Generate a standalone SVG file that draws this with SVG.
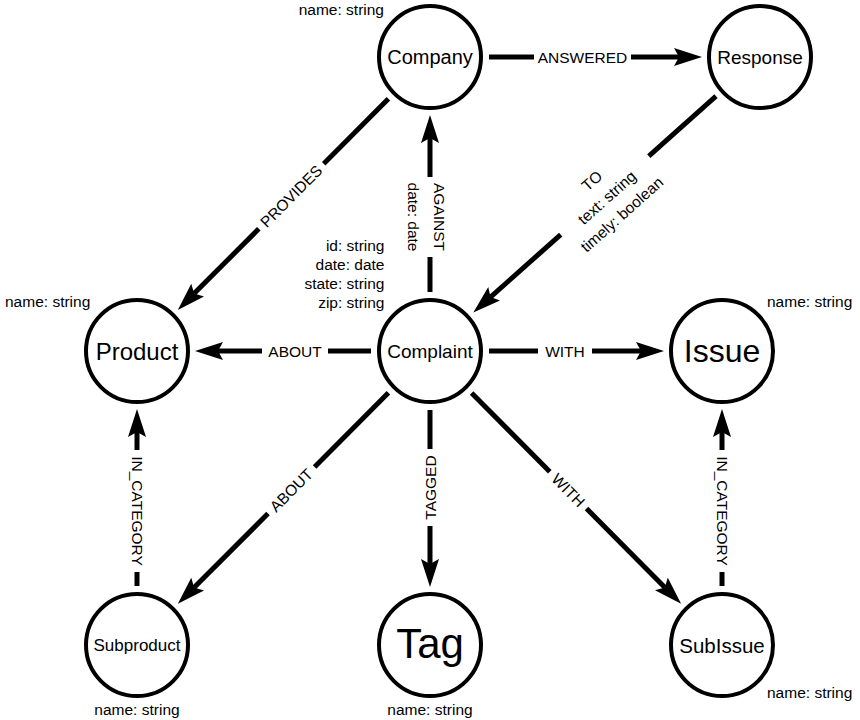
<svg xmlns="http://www.w3.org/2000/svg" width="860" height="720" viewBox="0 0 860 720">
<style>
.node circle{fill:#fff;stroke:#000;stroke-width:4}
.nl{font-family:"Liberation Sans",Arial,sans-serif;fill:#000;text-anchor:middle}
.prop{font-family:"Liberation Sans",Arial,sans-serif;font-size:15.5px;fill:#000}
.edge line{stroke:#000;stroke-width:5;fill:none}
.el{font-family:"Liberation Sans",Arial,sans-serif;font-size:15.5px;fill:#000;text-anchor:middle}
</style>
<defs>
<marker id="ah" markerUnits="userSpaceOnUse" markerWidth="28" markerHeight="18" refX="5" refY="9" orient="auto" viewBox="0 0 28 18">
<path d="M0,0 L28,9 L0,18 L5,9 Z" fill="#000"/>
</marker>
</defs>
<rect width="860" height="720" fill="#fff"/>

<g id="connectors" class="edge">
<g id="e-answered">
<line x1="489" y1="57" x2="534" y2="57"/>
<line x1="631" y1="57" x2="679" y2="57" marker-end="url(#ah)"/>
<text class="el" x="582.5" y="62.5">ANSWERED</text>
</g>
<g id="e-to">
<line x1="716" y1="96.2" x2="648.8" y2="156.1"/>
<line x1="560.7" y1="234.6" x2="490.5" y2="297.1" marker-end="url(#ah)"/>
<g transform="translate(604.8,195.3) rotate(-41.7)">
<text class="el" x="0" y="-14">TO</text>
<text class="el" x="0" y="8.5">text: string</text>
<text class="el" x="0" y="31">timely: boolean</text>
</g>
</g>
<g id="e-provides">
<line x1="388.4" y1="98.8" x2="323.7" y2="163.7"/>
<line x1="258.8" y1="228.8" x2="194.1" y2="293.6" marker-end="url(#ah)"/>
<text class="el" transform="translate(291.2,196.2) rotate(-45.1)" x="0" y="5.5">PROVIDES</text>
</g>
<g id="e-against">
<line x1="430" y1="292" x2="430" y2="257"/>
<line x1="430" y1="177" x2="430" y2="138" marker-end="url(#ah)"/>
<g transform="translate(430,217) rotate(90)">
<text class="el" x="0" y="-4">AGAINST</text>
<text class="el" x="0" y="22">date: date</text>
</g>
</g>
<g id="e-about-product">
<line x1="371" y1="351" x2="328" y2="351"/>
<line x1="262" y1="351" x2="218" y2="351" marker-end="url(#ah)"/>
<text class="el" x="295" y="356.5">ABOUT</text>
</g>
<g id="e-with-issue">
<line x1="489" y1="351" x2="538" y2="351"/>
<line x1="592" y1="351" x2="641" y2="351" marker-end="url(#ah)"/>
<text class="el" x="565" y="356.5">WITH</text>
</g>
<g id="e-about-subproduct">
<line x1="388.4" y1="392.8" x2="314.6" y2="466.9"/>
<line x1="268" y1="513.6" x2="194.1" y2="587.6" marker-end="url(#ah)"/>
<text class="el" transform="translate(291.2,490.2) rotate(-45.1)" x="0" y="5.5">ABOUT</text>
</g>
<g id="e-tagged">
<line x1="430" y1="410" x2="430" y2="449"/>
<line x1="430" y1="526" x2="430" y2="564" marker-end="url(#ah)"/>
<text class="el" transform="translate(430,487.5) rotate(-90)" x="0" y="5.5">TAGGED</text>
</g>
<g id="e-with-subissue">
<line x1="471.6" y1="392.9" x2="549.8" y2="471.7"/>
<line x1="586.5" y1="508.5" x2="664.9" y2="587.5" marker-end="url(#ah)"/>
<text class="el" transform="translate(568.3,490.2) rotate(45.2)" x="0" y="5.5">WITH</text>
</g>
<g id="e-incat-product">
<line x1="137" y1="586" x2="137" y2="572"/>
<line x1="137" y1="450" x2="137" y2="432" marker-end="url(#ah)"/>
<text class="el" transform="translate(137,511) rotate(90)" x="0" y="5.5">IN_CATEGORY</text>
</g>
<g id="e-incat-issue">
<line x1="722" y1="586" x2="722" y2="572"/>
<line x1="722" y1="450" x2="722" y2="432" marker-end="url(#ah)"/>
<text class="el" transform="translate(722,511) rotate(90)" x="0" y="5.5">IN_CATEGORY</text>
</g>
</g>

<g id="company" class="node">
<circle cx="430" cy="57" r="51"/>
<text class="nl" x="430" y="64" font-size="20">Company</text>
<text class="prop" x="384" y="15" text-anchor="end">name: string</text>
</g>
<g id="response" class="node">
<circle cx="760" cy="57" r="51"/>
<text class="nl" x="760" y="64" font-size="19">Response</text>
</g>
<g id="product" class="node">
<circle cx="137" cy="351" r="51"/>
<text class="nl" x="137" y="359.5" font-size="24">Product</text>
<text class="prop" x="5" y="307">name: string</text>
</g>
<g id="complaint" class="node">
<circle cx="430" cy="351" r="51"/>
<text class="nl" x="430" y="358" font-size="19">Complaint</text>
<text class="prop" x="384.5" y="250.5" text-anchor="end">id: string</text>
<text class="prop" x="384.5" y="269.5" text-anchor="end">date: date</text>
<text class="prop" x="384.5" y="288.5" text-anchor="end">state: string</text>
<text class="prop" x="384.5" y="307.5" text-anchor="end">zip: string</text>
</g>
<g id="issue" class="node">
<circle cx="722" cy="351" r="51"/>
<text class="nl" x="722" y="362" font-size="32">Issue</text>
<text class="prop" x="767" y="307">name: string</text>
</g>
<g id="subproduct" class="node">
<circle cx="137" cy="645" r="51"/>
<text class="nl" x="137" y="651" font-size="17">Subproduct</text>
<text class="prop" x="137" y="715" text-anchor="middle">name: string</text>
</g>
<g id="tag" class="node">
<circle cx="430" cy="645" r="51"/>
<text class="nl" x="430" y="658" font-size="42">Tag</text>
<text class="prop" x="430" y="715" text-anchor="middle">name: string</text>
</g>
<g id="subissue" class="node">
<circle cx="722" cy="645" r="51"/>
<text class="nl" x="722" y="652.5" font-size="20.5">SubIssue</text>
<text class="prop" x="767" y="698">name: string</text>
</g>
</svg>
